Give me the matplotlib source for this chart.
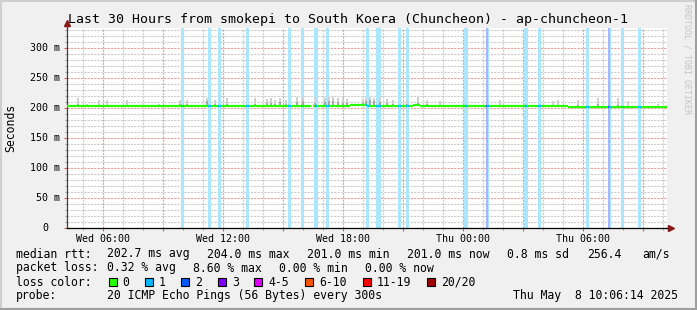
import matplotlib
matplotlib.use("Agg")
import matplotlib.pyplot as plt
from matplotlib.lines import Line2D
from matplotlib.patches import Rectangle
from matplotlib.ticker import FixedLocator, MultipleLocator

W, H = 697, 310
MONO = "DejaVu Sans Mono"

# time axis: hours counted from Wed 00:00
t_start, t_end = 4.2, 34.2
step = 5 / 60  # one rrd step = 5 minutes

# median rtt, piecewise (start h, end h, ms)
median_start = [4.2, 16.5, 18.35, 19.2, 21.5, 21.85, 29.25]
median_end = [16.38, 18.35, 19.2, 21.5, 21.85, 29.25, 34.2]
median_ms = [203.0, 203.0, 204.5, 203.0, 204.5, 203.0, 201.0]

# loss slots (start hour of 5 min step, pings lost)
loss_time = [9.89, 9.97, 11.25, 11.33, 11.75, 11.83, 13.15, 13.23,
             15.25, 15.33, 15.90, 15.98, 16.57, 16.65, 17.15, 17.23,
             19.15, 19.23, 19.65, 19.73, 19.82, 20.75, 20.83, 21.15, 21.23,
             24.07, 24.15, 25.15, 25.23, 27.07, 27.15, 27.75, 27.83,
             30.15, 30.23, 31.25, 31.33, 31.90, 31.98, 32.75, 32.83]
loss_count = [1, 1, 1, 1, 1, 1, 1, 1,
              1, 1, 1, 1, 1, 1, 1, 1,
              1, 1, 1, 1, 1, 1, 1, 1, 1,
              1, 1, 2, 1, 1, 1, 1, 1,
              1, 1, 2, 1, 1, 1, 1, 1]

# smoke: time, top of outer smoke (ms), top of inner smoke (ms)
smoke_time = [4.75, 5.2, 5.8, 6.2, 7.2, 8.8, 9.85, 10.2, 11.2, 11.6, 12.2,
              13.6, 14.2, 14.4, 14.6, 14.85, 15.15, 15.7, 16.0, 16.6, 17.1,
              17.3, 17.5, 17.75, 18.0, 18.2, 19.0, 19.15, 19.35, 19.55, 19.85,
              20.2, 20.5, 21.2, 21.75, 22.2, 22.85, 25.85, 28.5, 28.75, 29.75,
              30.75, 31.75, 32.25, 33.75]
smoke_top = [217, 207, 213, 213, 213, 207, 213, 214, 217, 213, 217,
             216, 215, 216, 214, 216, 213, 218, 218, 218, 216,
             219, 218, 217, 216, 215, 215, 217, 218, 217, 218,
             215, 213, 214, 218, 213, 212, 213, 212, 213, 214,
             216, 216, 212, 207]
smoke_core = [206, 204, 205, 205, 205, 204, 206, 206, 212, 206, 207,
              207, 208, 209, 207, 210, 206, 210, 212, 209, 210,
              212, 211, 210, 209, 208, 209, 212, 213, 211, 210,
              208, 206, 207, 209, 206, 205, 205, 204, 204, 205,
              206, 205, 204, 203]

# x axis ticks
tick_hours = [6, 9, 12, 15, 18, 21, 24, 27, 30, 33]
tick_labels = ["Wed 06:00", "", "Wed 12:00", "", "Wed 18:00", "",
               "Thu 00:00", "", "Thu 06:00", ""]
y_ticks = [0, 50, 100, 150, 200, 250, 300]

# legend
loss_labels = ["0", "1", "2", "3", "4-5", "6-10", "11-19", "20/20"]
loss_colors = ["#26ff00", "#00b8ff", "#0059ff", "#7e00ff", "#dd00ff",
               "#ff5500", "#ff0000", "#a10000"]
bar_colors = {1: "#aae6fc", 2: "#a8b4ff"}
rtt_stats = ["202.7 ms avg", "204.0 ms max", "201.0 ms min",
             "201.0 ms now", "0.8 ms sd", "256.4", "am/s"]
pl_stats = ["0.32 % avg", "8.60 % max", "0.00 % min", "0.00 % now"]
probe_text = "20 ICMP Echo Pings (56 Bytes) every 300s"
date_text = "Thu May  8 10:06:14 2025"
title = "Last 30 Hours from smokepi to South Koera (Chuncheon) - ap-chuncheon-1"


def fx(x):
    return x / W


def fy(y):
    return 1 - y / H


def median_at(t):
    for s, e, v in zip(median_start, median_end, median_ms):
        if s <= t < e:
            return v
    return median_ms[-1]


fig = plt.figure(figsize=(W / 100, H / 100), dpi=100, facecolor="#f0f0f0")
ax = fig.add_axes([fx(67), 82 / H, 600 / W, 200 / H], facecolor="white")
ax.set_xlim(t_start, t_end)
ax.set_ylim(0, 200 / 0.6)

# grid
ax.xaxis.set_major_locator(FixedLocator(tick_hours))
ax.xaxis.set_minor_locator(MultipleLocator(1))
ax.yaxis.set_major_locator(FixedLocator(y_ticks))
ax.yaxis.set_minor_locator(MultipleLocator(10))
ax.grid(True, which="minor", color="#cccccc", linestyle=(0, (2, 1)), lw=0.8)
ax.grid(True, which="major", color="#e6a0a0", linestyle=(0, (2, 1)), lw=0.8)
ax.set_axisbelow(True)

# loss bars
for t, n in zip(loss_time, loss_count):
    ax.axvspan(t, t + step, color=bar_colors[n], lw=0, zorder=1)

# smoke
for t, top, core in zip(smoke_time, smoke_top, smoke_core):
    base = median_at(t)
    ax.bar(t, top - base, bottom=base, width=0.07, color="#d0d0d0",
           lw=0, zorder=2)
    ax.bar(t, core - base, bottom=base, width=0.07, color="#a8a8a8",
           lw=0, zorder=2)

# median line
for s, e, v in zip(median_start, median_end, median_ms):
    ax.plot([s, e], [v, v], color=loss_colors[0], lw=1.6,
            solid_capstyle="butt", zorder=3)
for t, n in zip(loss_time, loss_count):
    v = median_at(t)
    ax.plot([t + 0.01, t + step - 0.01], [v, v], color=loss_colors[n],
            lw=1.6, solid_capstyle="butt", zorder=4)

# axes and arrows
for side in ["top", "right"]:
    ax.spines[side].set_visible(False)
ax.spines["left"].set_color("#404040")
ax.spines["bottom"].set_color("black")
ax.spines["left"].set_linewidth(0.9)
ax.spines["bottom"].set_linewidth(0.9)
ax.plot([0, 0], [1, 1.025], transform=ax.transAxes, color="#404040",
        lw=0.9, clip_on=False)
ax.plot([1, 1.005], [0, 0], transform=ax.transAxes, color="black",
        lw=0.9, clip_on=False)
ax.plot([0], [1.025], transform=ax.transAxes, marker="^", ms=4,
        color="#8a1a1a", clip_on=False)
ax.plot([1.006], [0], transform=ax.transAxes, marker=">", ms=4,
        color="#8a1a1a", clip_on=False)

ax.tick_params(axis="both", which="major", length=2.5, width=0.8,
               color="#d06060")
ax.tick_params(axis="both", which="minor", length=1.5, width=0.8,
               color="#a0a0a0")
ax.set_xticklabels(tick_labels, fontfamily=MONO, fontsize=7.2)
ax.tick_params(axis="x", pad=1.5)
ax.set_yticklabels([])
for v in y_ticks:
    if v == 0:
        ax.text((45 - 67) / 600, v, "0", transform=ax.get_yaxis_transform(),
                ha="center", va="center", fontfamily=MONO, fontsize=7.2)
    else:
        ax.text((60 - 67) / 600, v, f"{v} m",
                transform=ax.get_yaxis_transform(), ha="right", va="center",
                fontfamily=MONO, fontsize=7.2)

# titles and labels
fig.text(fx(348), fy(19.5), title, ha="center", va="center",
         fontfamily=MONO, fontsize=9.5)
fig.text(fx(11), fy(128), "Seconds", rotation=90, ha="center", va="center",
         fontfamily=MONO, fontsize=8.3)
fig.text(fx(687), fy(59), "RRDTOOL / TOBI OETIKER", rotation=270,
         ha="center", va="center", fontfamily=MONO, fontsize=6,
         color="#c4c4c4")

# legend
LS = 8.3
fig.text(fx(16), fy(254), "median rtt:", va="center", fontfamily=MONO,
         fontsize=LS)
for s, x in zip(rtt_stats, [107, 207, 307, 407, 507, 587, 642]):
    fig.text(fx(x), fy(254), s, va="center", fontfamily=MONO, fontsize=LS)
fig.text(fx(16), fy(268), "packet loss:", va="center", fontfamily=MONO,
         fontsize=LS)
for s, x in zip(pl_stats, [107, 193, 279, 365]):
    fig.text(fx(x), fy(268), s, va="center", fontfamily=MONO, fontsize=LS)
fig.text(fx(16), fy(282), "loss color:", va="center", fontfamily=MONO,
         fontsize=LS)
bx = 108.5
for lab, col in zip(loss_labels, loss_colors):
    fig.add_artist(Rectangle((fx(bx), fy(286)), 8 / W, 8 / H,
                             transform=fig.transFigure, facecolor=col,
                             edgecolor="black", lw=0.8))
    fig.text(fx(bx + 14), fy(282), lab, va="center", fontfamily=MONO,
             fontsize=LS)
    bx = bx + 14 + 7 * len(lab) + 15.5
fig.text(fx(16), fy(296), "probe:", va="center", fontfamily=MONO,
         fontsize=LS)
fig.text(fx(107), fy(296), probe_text, va="center", fontfamily=MONO,
         fontsize=LS)
fig.text(fx(513), fy(296), date_text, va="center", fontfamily=MONO,
         fontsize=LS)

# 3d frame
fig.add_artist(Line2D([fx(1), fx(1), fx(696)], [fy(310), fy(1), fy(1)],
                      transform=fig.transFigure, color="#cfcfcf", lw=1.5))
fig.add_artist(Line2D([fx(1), fx(695.5), fx(695.5)],
                      [fy(308.5), fy(308.5), fy(1)],
                      transform=fig.transFigure, color="#9e9e9e", lw=2.2))

fig.savefig("out.png", dpi=100, facecolor=fig.get_facecolor())
